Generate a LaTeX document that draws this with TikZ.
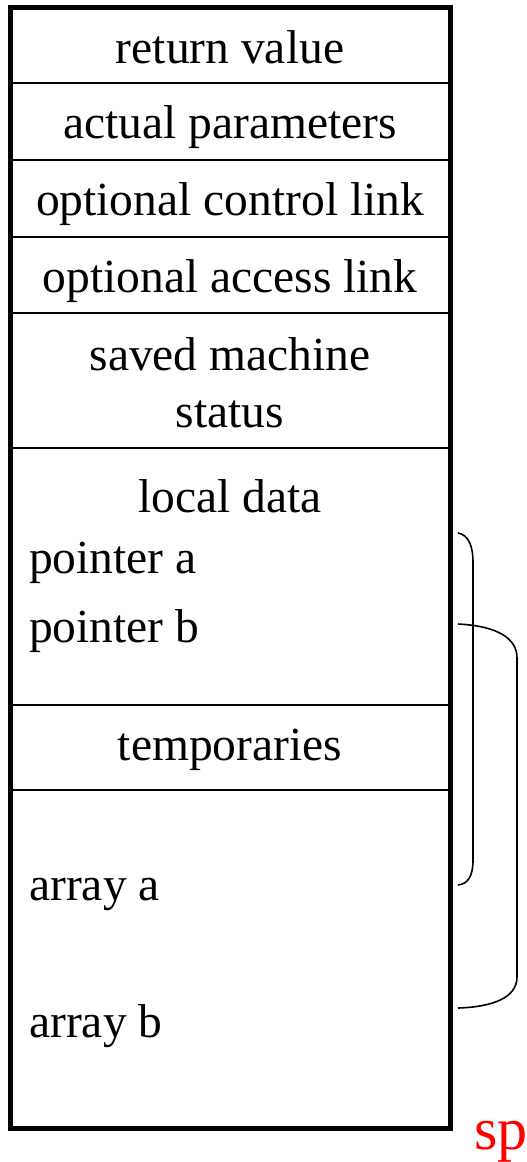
\documentclass[tikz,border=0pt]{standalone}
\usepackage{fontspec}
\setmainfont{Liberation Serif}
\begin{document}
\begin{tikzpicture}[x=1pt,y=-1pt,
  lbl/.style={anchor=base,inner sep=0pt,font=\fontsize{47.5}{57}\selectfont},
  lbll/.style={lbl,anchor=base west},
  divider/.style={line width=2pt},
  frame/.style={line width=5pt},
  bracecurve/.style={line width=1.6pt}]
\useasboundingbox (0,0) rectangle (527,1162);
% dividers
\foreach \yy in {83,160,237,313,448,705,790}
  \draw[divider] (10,\yy) -- (450,\yy);
\draw[frame] (10,7) rectangle (450,1128);
% labels
\node[lbl] (rv) at (230,63) {return value};
\node[lbl] (ap) at (230,138) {actual parameters};
\node[lbl] (ocl) at (230,215) {optional control link};
\node[lbl] (oal) at (230,292) {optional access link};
\node[lbl] (sm) at (230,370) {saved machine};
\node[lbl] (st) at (230,427) {status};
\node[lbl] (ld) at (230,512) {local data};
\node[lbll] (pa) at (29,573) {pointer a};
\node[lbll] (pb) at (29,642) {pointer b};
\node[lbl] (tmp) at (230,760) {temporaries};
\node[lbll] (aa) at (29,900) {array a};
\node[lbll] (ab) at (29,1037) {array b};
\node[anchor=base west,inner sep=0pt,text=red,font=\fontsize{60}{70}\selectfont] (sp) at (474,1149) {sp};
% brace endpoints
\coordinate (a1) at (458,533);
\coordinate (a2) at (458,885);
\coordinate (b1) at (458,624);
\coordinate (b2) at (458,1008);
\draw[bracecurve] (a1) .. controls (469,535) and (473,547) .. (473,562)
  -- (473,860) .. controls (473,876) and (468,884) .. (a2);
\draw[bracecurve] (b1) .. controls (497,626) and (517,638) .. (517,658)
  -- (517,977) .. controls (517,998) and (492,1007) .. (b2);
\end{tikzpicture}
\end{document}
